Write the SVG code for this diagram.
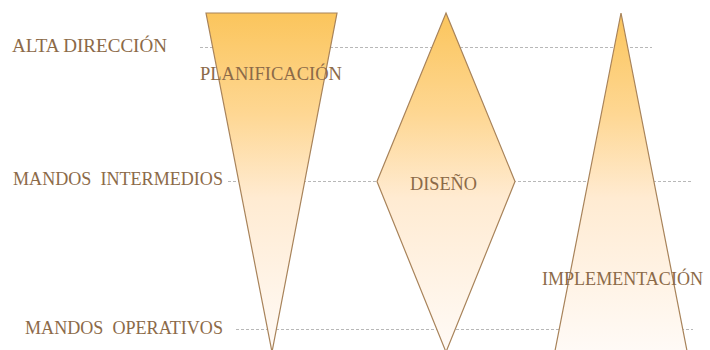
<svg xmlns="http://www.w3.org/2000/svg" width="710" height="350" viewBox="0 0 710 350">
<defs>
<linearGradient id="g" gradientUnits="userSpaceOnUse" x1="0" y1="13" x2="0" y2="350">
<stop offset="0" stop-color="#fbc55c"/>
<stop offset="0.3" stop-color="#fed793"/>
<stop offset="0.55" stop-color="#ffebd2"/>
<stop offset="1" stop-color="#fffaf6"/>
</linearGradient>
</defs>
<style>
.shape{fill:url(#g);stroke:#a8835a;stroke-width:1.2;stroke-linejoin:miter}
.guide{stroke:#b8b8b8;stroke-width:1;stroke-dasharray:3 2;fill:none}
.lbl{font-family:"Liberation Serif","Times New Roman",serif;font-size:18px;fill:#8c6a48}
</style>
<g id="connectors">
<line class="guide" x1="200" y1="47.5" x2="652" y2="47.5"/>
<line class="guide" x1="228" y1="181.5" x2="693" y2="181.5"/>
<line class="guide" x1="236" y1="329.5" x2="693" y2="329.5"/>
</g>
<g id="planificacion">
<polygon class="shape" points="206,13 337,13 272,352"/>
<text class="lbl" x="200" y="80" textLength="142" lengthAdjust="spacingAndGlyphs">PLANIFICACIÓN</text>
</g>
<g id="diseno">
<polygon class="shape" points="446,13 515,181.5 446,352 377,181.5"/>
<text class="lbl" x="410" y="190" textLength="67" lengthAdjust="spacingAndGlyphs">DISEÑO</text>
</g>
<g id="implementacion">
<polygon class="shape" points="621,13 688,356 554,356"/>
<text class="lbl" x="542" y="285" textLength="161" lengthAdjust="spacingAndGlyphs">IMPLEMENTACIÓN</text>
</g>
<g id="alta">
<text class="lbl" x="12" y="52" textLength="155" lengthAdjust="spacingAndGlyphs">ALTA DIRECCIÓN</text>
</g>
<g id="intermedios">
<text class="lbl" x="13" y="185" textLength="210" lengthAdjust="spacingAndGlyphs" xml:space="preserve">MANDOS  INTERMEDIOS</text>
</g>
<g id="operativos">
<text class="lbl" x="25" y="334" textLength="198" lengthAdjust="spacingAndGlyphs" xml:space="preserve">MANDOS  OPERATIVOS</text>
</g>
</svg>
